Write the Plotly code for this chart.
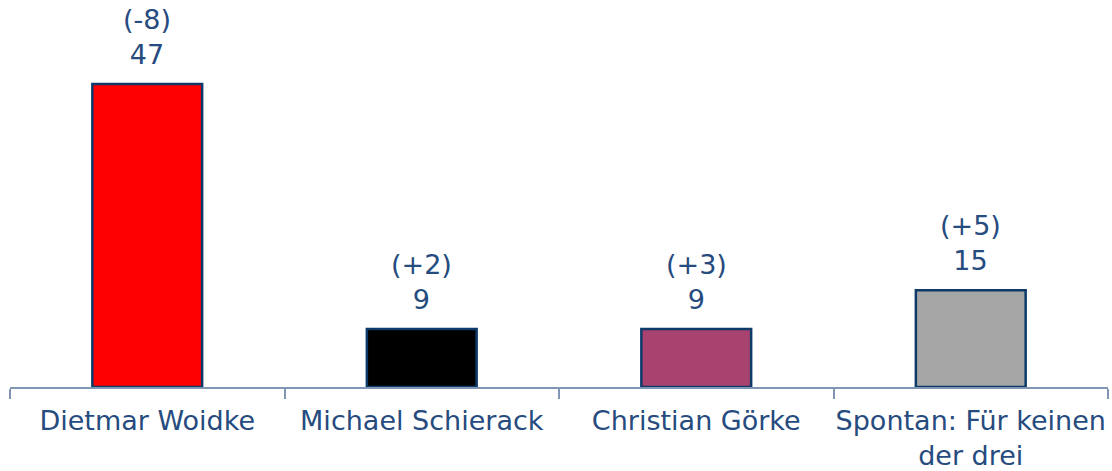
import plotly.graph_objects as go

categories = ["Dietmar Woidke", "Michael Schierack", "Christian Görke", "Spontan: Für keinen<br>der drei"]
values = [47, 9, 9, 15]
changes = ["(-8)", "(+2)", "(+3)", "(+5)"]
colors = ["#FF0000", "#000000", "#A8426E", "#A6A6A6"]

TEXT = "#264B7E"
FONT = "DejaVu Sans, Verdana, sans-serif"

fig = go.Figure()
fig.add_trace(go.Bar(
    x=categories, y=values,
    marker=dict(color=colors, line=dict(color="#0E3A6A", width=2.5)),
    width=0.4, hoverinfo="skip",
))
for c, v, ch in zip(categories, values, changes):
    fig.add_annotation(x=c, y=v, xref="x", yref="y", text=f"{ch}<br>{v}",
                       showarrow=False, yanchor="bottom", yshift=12,
                       font=dict(family=FONT, size=27, color=TEXT))

fig.update_layout(
    width=1112, height=471,
    margin=dict(l=10, r=4, t=10, b=84, autoexpand=False),
    plot_bgcolor="white", paper_bgcolor="white",
    showlegend=False,
    font=dict(family=FONT, size=27, color=TEXT),
    xaxis=dict(showline=True, linecolor="#7F97B5", linewidth=1.5, automargin=False,
               ticks="outside", tickson="boundaries", ticklen=10, tickcolor="#7F97B5",
               tickwidth=1.5, showgrid=False, ticklabelstandoff=9, tickangle=0,
               tickfont=dict(family=FONT, size=27, color=TEXT)),
    yaxis=dict(range=[0, 58.5], visible=False, showgrid=False, zeroline=False,
               automargin=False),
)
fig.write_html("out.html", post_script="document.body.style.margin='0';",
               config={"displayModeBar": False})
